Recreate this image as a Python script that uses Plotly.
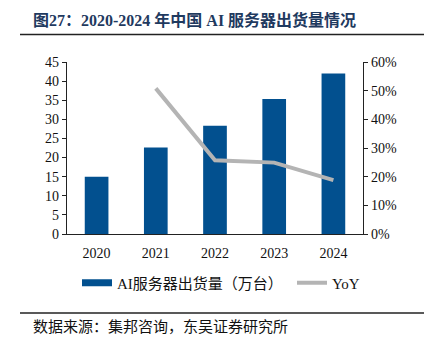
import plotly.graph_objects as go

years = ["2020", "2021", "2022", "2023", "2024"]
shipments = [15.0, 22.6, 28.3, 35.3, 42.0]
yoy = [None, 0.508, 0.257, 0.249, 0.188]

BAR_COLOR = "#02508F"
LINE_COLOR = "#B4B4B4"
FONT = "Liberation Serif, Times New Roman, Noto Sans CJK SC"

W, H = 424, 347
L, R, T, B = 67, 61, 62, 113
pw, ph = W - L - R, H - T - B

def px(x):
    return (x - L) / pw

def py(y):
    return (H - B - y) / ph

fig = go.Figure()
fig.add_trace(go.Bar(x=years, y=shipments, marker_color=BAR_COLOR,
                     marker_line_width=0, showlegend=False, name="AI服务器出货量（万台）"))
fig.add_trace(go.Scatter(x=years, y=yoy, yaxis="y2", mode="lines",
                         line=dict(color=LINE_COLOR, width=4), showlegend=False, name="YoY"))
# legend entries
fig.add_trace(go.Scatter(x=[None], y=[None], mode="lines", line=dict(color=BAR_COLOR, width=7),
                         name="AI服务器出货量（万台）", legend="legend"))
fig.add_trace(go.Scatter(x=[None], y=[None], mode="lines", line=dict(color=LINE_COLOR, width=4),
                         name="YoY", legend="legend2"))

leg_common = dict(orientation="h", xanchor="left", yanchor="middle", y=py(283),
                  font=dict(size=15, color="#111"), itemwidth=30, tracegroupgap=0,
                  bgcolor="rgba(0,0,0,0)")

fig.update_layout(
    width=W, height=H,
    margin=dict(l=L, r=R, t=T, b=B),
    paper_bgcolor="white", plot_bgcolor="white",
    font=dict(family=FONT, size=14, color="#111"),
    bargap=0.6,
    showlegend=True,
    legend=dict(x=px(77), **leg_common),
    legend2=dict(x=px(292), **leg_common),
    xaxis=dict(showline=True, linecolor="#222", linewidth=1.2, ticks="", showgrid=False,
               tickfont=dict(size=14), zeroline=False, ticklabelstandoff=6),
    yaxis=dict(range=[0, 45], dtick=5, showline=True, linecolor="#222", linewidth=1.2,
               ticks="outside", ticklen=4, tickcolor="#222", showgrid=False, zeroline=False,
               tickfont=dict(size=14)),
    yaxis2=dict(range=[0, 0.6], dtick=0.1, tickformat=".0%", overlaying="y", side="right",
                showline=True, linecolor="#222", linewidth=1.2, ticks="outside", ticklen=4,
                tickcolor="#222", showgrid=False, zeroline=False, tickfont=dict(size=14)),
)

fig.add_annotation(text="<b>图27：2020-2024 年中国 AI 服务器出货量情况</b>", xref="paper", yref="paper",
                   x=px(31), y=py(20), xanchor="left", yanchor="middle", showarrow=False,
                   font=dict(size=16, color="#1F3A5F", family=FONT))
fig.add_annotation(text="数据来源：集邦咨询，东吴证券研究所", xref="paper", yref="paper",
                   x=px(31), y=py(327), xanchor="left", yanchor="middle", showarrow=False,
                   font=dict(size=15, color="#111", family=FONT))
fig.add_shape(type="line", xref="paper", yref="paper", x0=px(20), x1=px(424), y0=py(34.5), y1=py(34.5),
              line=dict(color="#222", width=1.5))
fig.add_shape(type="line", xref="paper", yref="paper", x0=px(20), x1=px(424), y0=py(313), y1=py(313),
              line=dict(color="#222", width=1.5))

fig.write_html("out.html")
